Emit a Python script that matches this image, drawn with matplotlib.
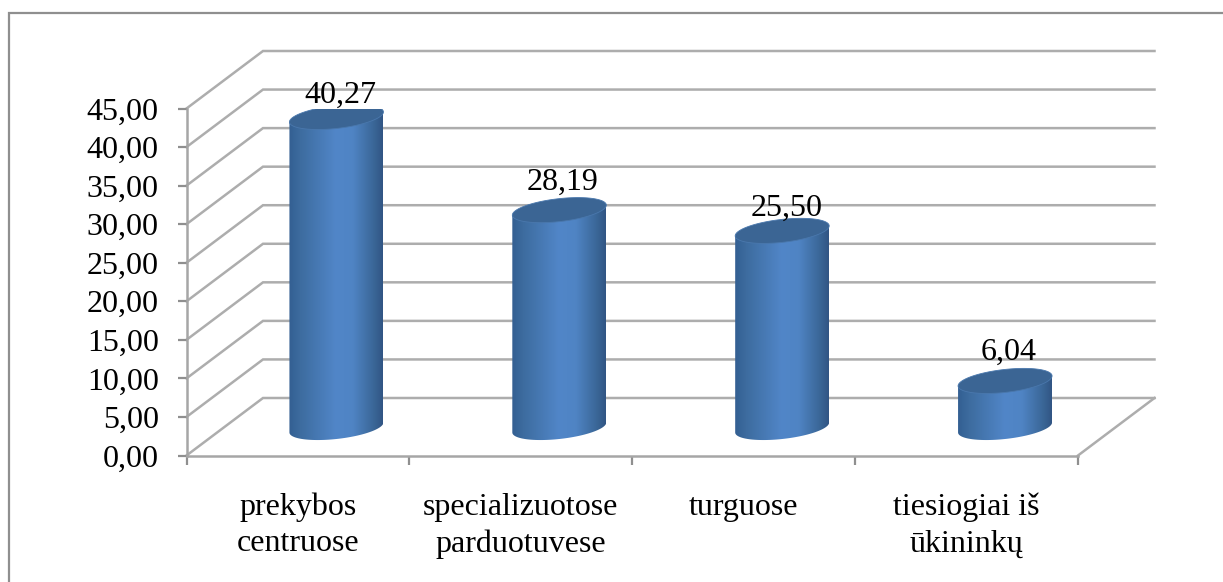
import numpy as np
import matplotlib
matplotlib.use("Agg")
import matplotlib.pyplot as plt
from matplotlib.colors import LinearSegmentedColormap
from matplotlib.lines import Line2D
from matplotlib.patches import Polygon

categories = ["prekybos\ncentruose", "specializuotose\nparduotuvese", "turguose", "tiesiogiai iš\nūkininkų"]
values = [40.27, 28.19, 25.50, 6.04]
value_labels = ["40,27", "28,19", "25,50", "6,04"]
y_ticks = [0, 5, 10, 15, 20, 25, 30, 35, 40, 45]
y_tick_labels = ["0,00", "5,00", "10,00", "15,00", "20,00", "25,00", "30,00", "35,00", "40,00", "45,00"]

W, H = 1223, 582
plt.rcParams["font.family"] = ["Liberation Serif", "DejaVu Serif"]
fig = plt.figure(figsize=(W / 100, H / 100), dpi=100, facecolor="white")

# outer frame: only the top and left edges fall inside the picture
fig.add_artist(Line2D([8.5 / W, 8.5 / W, 1], [0, 1 - 12.5 / H, 1 - 12.5 / H],
                      transform=fig.transFigure, color="#8f8f8f", lw=1.6, solid_joinstyle="miter"))

L, R, T, B = 186.5, 1078, 108.5, 455.5
ax = fig.add_axes([L / W, 1 - B / H, (R - L) / W, (B - T) / H])
ax.set_xlim(-0.5, 3.5)
ax.set_ylim(0, 45)
ax.patch.set_alpha(0)
for s in ["top", "right"]:
    ax.spines[s].set_visible(False)
for s in ["left", "bottom"]:
    ax.spines[s].set_color("#a6a6a6")
    ax.spines[s].set_linewidth(1.8)

px_x = 4 / (R - L)            # category units per pixel
px_y = 45 / (B - T)           # value units per pixel
dx, dy = 76.5 * px_x, 57.5 * px_y   # depth of the 3D box

grid = "#adadad"
for v in y_ticks:
    ax.plot([-0.5, -0.5 + dx, 3.5 + dx], [v, v + dy, v + dy], color=grid, lw=1.8,
            clip_on=False, zorder=1, solid_joinstyle="miter")
ax.plot([3.5, 3.5 + dx], [0, dy], color=grid, lw=1.8, clip_on=False, zorder=1)

ax.set_yticks(y_ticks, y_tick_labels)
ax.set_xticks(np.arange(-0.5, 4), [""] * 5)
ax.tick_params(axis="both", length=6.5, width=1.6, color="#8f8f8f", labelsize=23)
ax.tick_params(axis="y", pad=13.5)

# cylinders
cmap = LinearSegmentedColormap.from_list(
    "cyl", [(0, "#335f92"), (0.12, "#3d6c9f"), (0.5, "#5186c8"), (0.68, "#4f84c4"), (0.9, "#3b6798"), (1, "#315584")])
grad = np.linspace(0, 1, 256)[None, :]
a = 47 * px_x
b = 11.5 * px_y
shear = 5 * px_y
t = np.linspace(0, 2 * np.pi, 121)
ex, ey = a * np.cos(t), b * np.sin(t) + shear * np.cos(t)
lo = np.linspace(np.pi, 2 * np.pi, 61)
lx, ly = a * np.cos(lo), b * np.sin(lo) + shear * np.cos(lo)

base_dy = 28 * px_y
centre_shift = 38.5 * px_x
label_dx = [4, 3, 4, 4]
label_dy = [22, 28, 23, 29]
for i, v in enumerate(values):
    cx = i + centre_shift
    y0 = base_dy
    y1 = v + base_dy
    bx = np.concatenate([[cx - a], cx + lx, [cx + a]])
    by = np.concatenate([[y1 + ey[60]], y0 + ly, [y1 + ey[0]]])
    body = Polygon(np.column_stack([bx, by]), closed=True, fc="none", ec="none", transform=ax.transData)
    ax.add_patch(body)
    im = ax.imshow(grad, extent=[cx - a, cx + a, 0, 45], cmap=cmap, aspect="auto", zorder=3,
                   interpolation="bilinear")
    im.set_clip_path(body)
    ax.add_patch(Polygon(np.column_stack([cx + ex, y1 + ey]), closed=True, fc="#3b6594",
                         ec="#4a78ad", lw=0.6, zorder=4))
    ax.annotate(value_labels[i], (cx, y1), xytext=(label_dx[i], label_dy[i]),
                textcoords="offset pixels", ha="center", va="center", fontsize=23,
                zorder=5, annotation_clip=False)

ax.set_xlim(-0.5, 3.5)
ax.set_ylim(0, 45)

for i, c in enumerate(categories):
    ax.annotate(c, (i, 0), xytext=(0, -37), textcoords="offset pixels", ha="center", va="top",
                fontsize=23, linespacing=1.34, annotation_clip=False)

fig.savefig("out.png", dpi=100)
